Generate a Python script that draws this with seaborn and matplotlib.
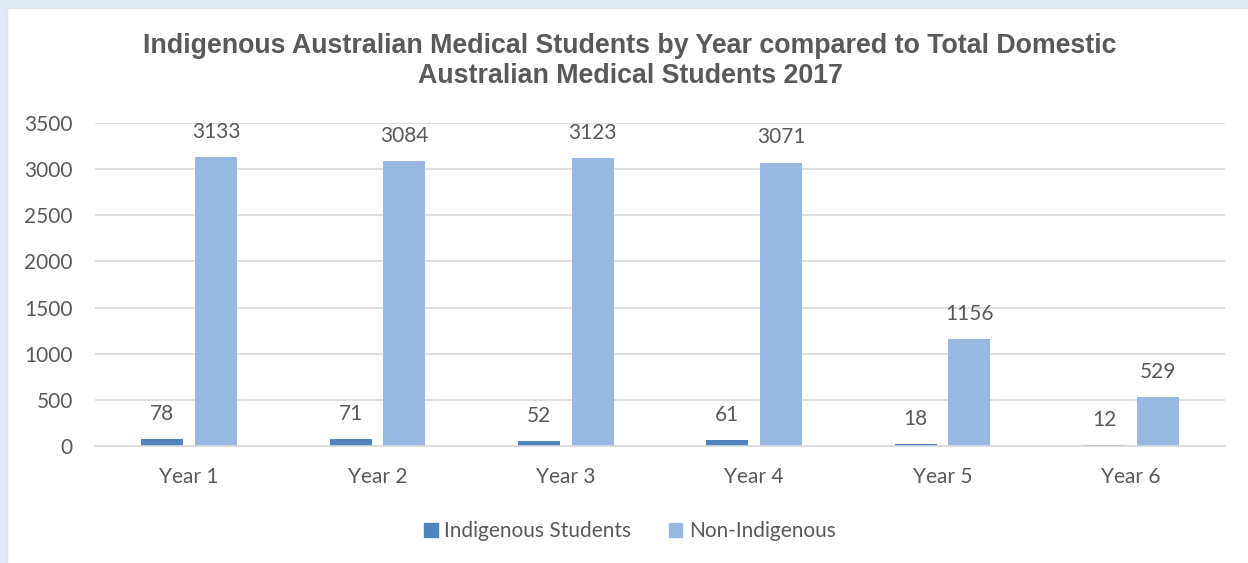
import matplotlib.pyplot as plt
import pandas as pd
import seaborn as sns
from matplotlib.patches import Rectangle

# Data
years = ["Year 1", "Year 2", "Year 3", "Year 4", "Year 5", "Year 6"]
indigenous = [78, 71, 52, 61, 18, 12]
non_indigenous = [3133, 3084, 3123, 3071, 1156, 529]
series_names = ["Indigenous Students", "Non-Indigenous"]

TEXT = '#595959'
GRID = '#d9d9d9'
COLORS = ['#4f85be', '#97b8e0']

df = pd.DataFrame({
    'year': years * 2,
    'count': indigenous + non_indigenous,
    'group': [series_names[0]] * len(years) + [series_names[1]] * len(years),
})

sns.set_theme(style="white")
plt.rcParams['font.family'] = ['Lato', 'DejaVu Sans']
plt.rcParams['text.color'] = TEXT

fig = plt.figure(figsize=(12.48, 5.63), dpi=100)
fig.patch.set_facecolor('#dfe9f5')
# white chart panel inside the light blue frame
fig.patches.append(Rectangle((7 / 1248, 0), 1, 1 - 8 / 563, transform=fig.transFigure,
                             facecolor='white', edgecolor='#e4e4e4', linewidth=1, zorder=-5))

ax = fig.add_axes([95 / 1248, 1 - 446 / 563, 1130 / 1248, 323 / 563])
ax.set_facecolor('none')

sns.barplot(data=df, x='year', y='count', hue='group', palette=COLORS,
            width=0.57, gap=0.22, ax=ax, legend=False, saturation=1, linewidth=0)

for cont in ax.containers:
    ax.bar_label(cont, fmt='%d', padding=11, fontsize=15, color=TEXT)

ax.set_ylim(0, 3500)
ax.set_yticks(range(0, 3501, 500))
ax.yaxis.grid(True, color=GRID, linewidth=1.2)
ax.set_axisbelow(True)
for side in ['top', 'right', 'left']:
    ax.spines[side].set_visible(False)
ax.spines['bottom'].set_color(GRID)
ax.spines['bottom'].set_linewidth(1.2)
ax.tick_params(axis='x', length=0, pad=15, labelsize=15, labelcolor=TEXT)
ax.tick_params(axis='y', length=0, pad=16, labelsize=15, labelcolor=TEXT)
ax.set_xlabel('')
ax.set_ylabel('')

fig.text(630 / 1248, 1 - 61 / 563,
         'Indigenous Australian Medical Students by Year compared to Total Domestic\n'
         'Australian Medical Students 2017',
         ha='center', va='center', fontsize=19.3, fontweight='bold', color=TEXT,
         family=['Liberation Sans', 'DejaVu Sans'], linespacing=1.2)

handles = [Rectangle((0, 0), 1, 1, color=c) for c in COLORS]
fig.legend(handles, series_names, loc='center', bbox_to_anchor=(630 / 1248, 1 - 531 / 563),
           ncol=2, frameon=False, fontsize=15, handlelength=0.65, handleheight=0.65,
           handletextpad=0.3, columnspacing=1.8, labelcolor=TEXT)

fig.savefig('out.png', dpi=100, facecolor=fig.get_facecolor())
